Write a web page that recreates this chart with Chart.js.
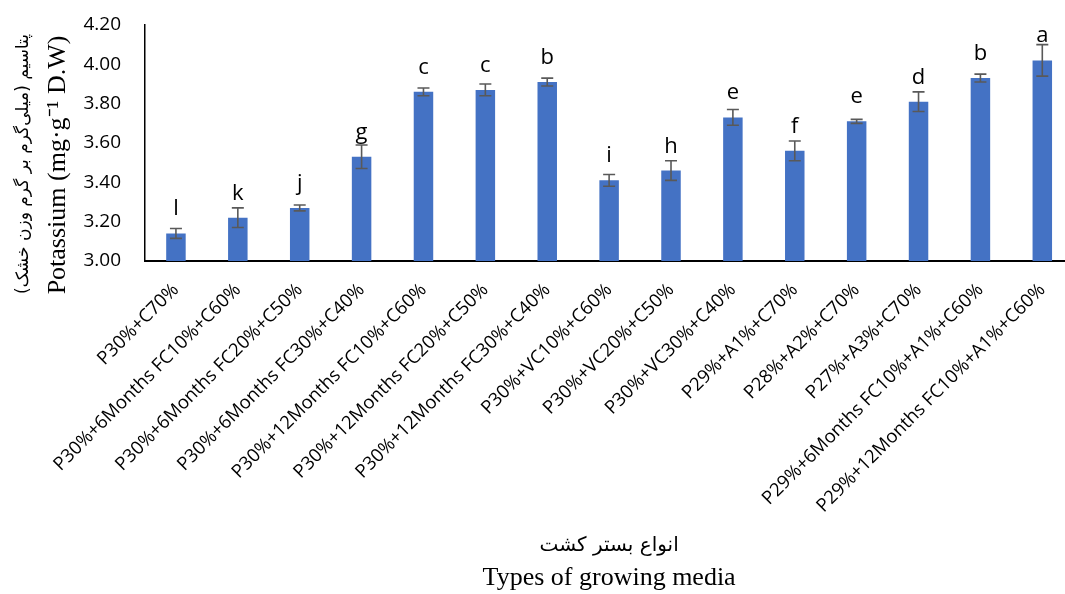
<!DOCTYPE html>
<html>
<head>
<meta charset="utf-8">
<script src="https://cdn.jsdelivr.net/npm/chart.js@4/dist/chart.umd.min.js"></script>
<style>
  html, body { margin: 0; padding: 0; background: #ffffff; overflow: hidden; }
  #wrap { width: 1076px; height: 594px; position: relative; }
</style>
</head>
<body>
<div id="wrap"><canvas id="chart" width="1076" height="594"></canvas></div>
<script>
// Growing-media treatments
const categories = [
  'P30%+C70%',
  'P30%+6Months FC10%+C60%',
  'P30%+6Months FC20%+C50%',
  'P30%+6Months FC30%+C40%',
  'P30%+12Months FC10%+C60%',
  'P30%+12Months FC20%+C50%',
  'P30%+12Months FC30%+C40%',
  'P30%+VC10%+C60%',
  'P30%+VC20%+C50%',
  'P30%+VC30%+C40%',
  'P29%+A1%+C70%',
  'P28%+A2%+C70%',
  'P27%+A3%+C70%',
  'P29%+6Months FC10%+A1%+C60%',
  'P29%+12Months FC10%+A1%+C60%'
];

// Potassium content (mg·g-1 D.W) and its error
const potassium = [3.14, 3.22, 3.27, 3.53, 3.86, 3.87, 3.91, 3.41, 3.46, 3.73, 3.56, 3.71, 3.81, 3.93, 4.02];
const potassiumErr = [0.025, 0.05, 0.015, 0.06, 0.02, 0.03, 0.02, 0.03, 0.05, 0.04, 0.05, 0.01, 0.05, 0.02, 0.08];

// Mean-comparison letters
const groupLetters = ['l', 'k', 'j', 'g', 'c', 'c', 'b', 'i', 'h', 'e', 'f', 'e', 'd', 'b', 'a'];

// Value axis range
const yMin = 3.0;
const yMax = 4.2;
const yStep = 0.2;

const yTitleFa = 'پتاسیم (میلی‌گرم بر گرم وزن خشک)';
const yTitleEn = 'Potassium (mg·g⁻¹ D.W)';
const xTitleFa = 'انواع بستر کشت';
const xTitleEn = 'Types of growing media';

const xTickFont = { family: '"Open Sans", sans-serif', size: 18.5 };
const yTickFont = { family: '"Open Sans", sans-serif', size: 19 };

// Error bars and letters above each bar
const annotatePlugin = {
  id: 'annotate',
  afterDatasetsDraw(chart) {
    const ctx = chart.ctx;
    const meta = chart.getDatasetMeta(0);
    const y = chart.scales.y;
    ctx.save();
    ctx.strokeStyle = '#595959';
    ctx.lineWidth = 1.6;
    meta.data.forEach((bar, i) => {
      const x = bar.x;
      const top = y.getPixelForValue(potassium[i] + potassiumErr[i]);
      const bot = y.getPixelForValue(potassium[i] - potassiumErr[i]);
      ctx.beginPath();
      ctx.moveTo(x, top); ctx.lineTo(x, bot);
      ctx.moveTo(x - 6, top); ctx.lineTo(x + 6, top);
      ctx.moveTo(x - 6, bot); ctx.lineTo(x + 6, bot);
      ctx.stroke();
    });
    ctx.fillStyle = '#000000';
    ctx.font = '22px "Open Sans", sans-serif';
    ctx.textAlign = 'center';
    ctx.textBaseline = 'alphabetic';
    meta.data.forEach((bar, i) => {
      ctx.fillText(groupLetters[i], bar.x, bar.y - 18);
    });
    ctx.restore();
  },
  afterDraw(chart) {
    const ctx = chart.ctx;
    const area = chart.chartArea;
    ctx.save();
    ctx.fillStyle = '#000000';
    ctx.textAlign = 'center';
    ctx.textBaseline = 'middle';

    // Vertical axis titles
    ctx.save();
    ctx.translate(24, 164);
    ctx.rotate(-Math.PI / 2);
    ctx.direction = 'rtl';
    ctx.font = '17px "DejaVu Sans", serif';
    ctx.fillText(yTitleFa, 0, 0);
    ctx.restore();

    ctx.save();
    ctx.translate(58, 165);
    ctx.rotate(-Math.PI / 2);
    ctx.font = '26px "Liberation Serif", serif';
    ctx.fillText(yTitleEn, 0, 0);
    ctx.restore();

    // Horizontal axis titles
    const cx = (area.left + area.right) / 2;
    ctx.save();
    ctx.direction = 'rtl';
    ctx.font = '20px "DejaVu Sans", serif';
    ctx.fillText(xTitleFa, cx, 546);
    ctx.restore();

    ctx.font = '26px "Liberation Serif", serif';
    ctx.fillText(xTitleEn, cx, 578);
    ctx.restore();
  }
};

new Chart(document.getElementById('chart'), {
  type: 'bar',
  data: {
    labels: categories,
    datasets: [{
      data: potassium,
      backgroundColor: '#4472C4',
      borderWidth: 0,
      barPercentage: 0.315,
      categoryPercentage: 1.0
    }]
  },
  options: {
    responsive: false,
    devicePixelRatio: 1,
    animation: false,
    layout: { padding: { top: 25, right: 0, bottom: 0, left: 0 } },
    plugins: { legend: { display: false }, tooltip: { enabled: false } },
    scales: {
      x: {
        grid: { display: false, drawTicks: false },
        border: { display: true, color: '#000000', width: 2 },
        ticks: {
          color: '#000000',
          font: xTickFont,
          autoSkip: false,
          maxRotation: 45,
          minRotation: 45,
          padding: 18
        },
        afterFit(scale) { scale.height = 333; }
      },
      y: {
        min: yMin,
        max: yMax,
        grid: { display: false, drawTicks: false },
        border: { display: true, color: '#000000', width: 1.5 },
        ticks: {
          stepSize: yStep,
          color: '#000000',
          font: yTickFont,
          padding: 24,
          callback: v => Number(v).toFixed(2)
        },
        afterFit(scale) {
          scale.width = 145;
          scale.paddingTop = 0;
          scale.paddingBottom = 0;
        }
      }
    }
  },
  plugins: [annotatePlugin]
});
</script>
</body>
</html>
